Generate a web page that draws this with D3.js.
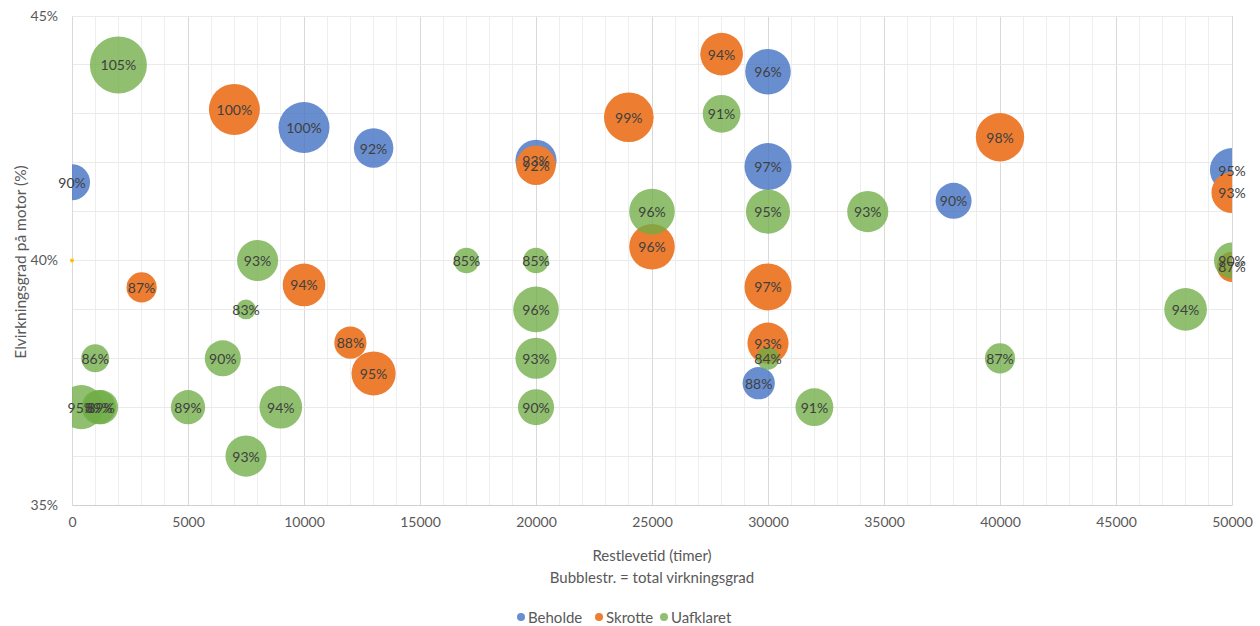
<!DOCTYPE html>
<html>
<head>
<meta charset="utf-8">
<script src="https://cdn.jsdelivr.net/npm/d3@7"></script>
<style>
  html, body { margin: 0; padding: 0; background: #fff; }
  svg { display: block; font-family: Lato, "Open Sans", sans-serif; }
</style>
</head>
<body>
<svg id="chart" width="1260" height="626"></svg>
<script>
// Restlevetid (timer), elvirkningsgrad (%) og total virkningsgrad (%) pr. motor
const beholdeX    = [0, 10000, 13000, 20000, 30000, 30000, 38000, 50000, 29600];
const beholdeY    = [41.6, 42.72, 42.3, 42.05, 43.86, 41.92, 41.22, 41.85, 37.49];
const beholdeSize = [90, 100, 92, 93, 96, 97, 90, 95, 88];

const skrotteX    = [7000, 3000, 10000, 12000, 13000, 20000, 24000, 28000, 25000, 30000, 30000, 40000, 50000, 50000];
const skrotteY    = [43.09, 39.45, 39.5, 38.32, 37.69, 41.95, 42.93, 44.22, 40.28, 39.46, 38.31, 42.52, 41.39, 39.87];
const skrotteSize = [100, 87, 94, 88, 95, 92, 99, 94, 96, 97, 93, 98, 93, 87];

const uafklaretX    = [2000, 8000, 7500, 1000, 6500, 400, 1150, 1250, 5000, 9000, 7500, 17000, 20000, 20000, 20000, 20000, 25000, 28000, 30000, 30000, 32000, 34300, 40000, 48000, 50000];
const uafklaretY    = [44.0, 40.0, 39.0, 38.0, 38.0, 37.0, 37.0, 37.0, 37.0, 37.0, 36.0, 40.0, 40.0, 39.0, 38.0, 37.0, 41.0, 43.0, 41.0, 38.0, 37.0, 41.0, 38.0, 39.0, 40.0];
const uafklaretSize = [105, 93, 83, 86, 90, 95, 89, 89, 89, 94, 93, 85, 85, 96, 93, 90, 96, 91, 95, 84, 91, 93, 87, 94, 90];

// Reference point on the y axis
const refX = [0];
const refY = [40];

const seriesNames = ["Beholde", "Skrotte", "Uafklaret"];
const xTicks = [0, 5000, 10000, 15000, 20000, 25000, 30000, 35000, 40000, 45000, 50000];
const yTicks = [35, 40, 45];

const xTitle = "Restlevetid (timer)";
const xSubtitle = "Bubblestr. = total virkningsgrad";
const yTitle = "Elvirkningsgrad på motor (%)";

const series = [
  { name: seriesNames[0], xs: beholdeX, ys: beholdeY, sizes: beholdeSize, color: "#4472C4", opacity: 0.8 },
  { name: seriesNames[1], xs: skrotteX, ys: skrotteY, sizes: skrotteSize, color: "#ED7D31", opacity: 1 },
  { name: seriesNames[2], xs: uafklaretX, ys: uafklaretY, sizes: uafklaretSize, color: "#70AD47", opacity: 0.78 }
];

const svg = d3.select("#chart");
const plot = { left: 72, right: 1232, top: 16, bottom: 505 };

const x = d3.scaleLinear().domain([0, 50000]).range([plot.left, plot.right]);
const y = d3.scaleLinear().domain([35, 45]).range([plot.bottom, plot.top]);
// bubble area grows with total efficiency above 80 %
const r = d3.scaleSqrt().domain([0, 25]).range([0, 28.5]);
const radius = v => r(Math.max(v - 80, 0));

// gridlines
const grid = svg.append("g");
grid.selectAll("line.vminor").data(d3.range(0, 50001, 1000)).join("line")
  .attr("x1", d => x(d)).attr("x2", d => x(d))
  .attr("y1", plot.top).attr("y2", plot.bottom)
  .attr("stroke", d => d % 5000 === 0 ? "#d9d9d9" : "#eeeeee").attr("stroke-width", 1)
  .attr("shape-rendering", "crispEdges");
grid.selectAll("line.h").data(d3.range(35, 45.01, 1)).join("line")
  .attr("x1", plot.left).attr("x2", plot.right)
  .attr("y1", d => y(d)).attr("y2", d => y(d))
  .attr("stroke", "#eaeaea").attr("stroke-width", 1)
  .attr("shape-rendering", "crispEdges");

// axes
const xAxis = d3.axisBottom(x).tickValues(xTicks).tickFormat(d3.format("d")).tickSize(0).tickPadding(12);
const gx = svg.append("g").attr("transform", `translate(0,${plot.bottom})`).call(xAxis);
gx.select(".domain").attr("stroke", "#d0d0d0");
gx.selectAll("text").attr("fill", "#595959").style("font-size", "14px").style("font-family", "Lato, sans-serif");

const yAxis = d3.axisLeft(y).tickValues(yTicks).tickFormat(d => d + "%").tickSize(0).tickPadding(14);
const gy = svg.append("g").attr("transform", `translate(${plot.left},0)`).call(yAxis);
gy.select(".domain").attr("stroke", "#d9d9d9");
gy.selectAll("text").attr("fill", "#595959").style("font-size", "14px").style("font-family", "Lato, sans-serif");

// clip region for the bubbles
svg.append("clipPath").attr("id", "plotClip").append("rect")
  .attr("x", plot.left).attr("y", plot.top)
  .attr("width", plot.right - plot.left).attr("height", plot.bottom - plot.top);

const bubbles = svg.append("g").attr("clip-path", "url(#plotClip)");
series.forEach(s => {
  const pts = s.xs.map((xv, i) => ({ x: xv, y: s.ys[i], v: s.sizes[i] }));
  bubbles.append("g").selectAll("circle").data(pts).join("circle")
    .attr("cx", d => x(d.x)).attr("cy", d => y(d.y)).attr("r", d => radius(d.v))
    .attr("fill", s.color).attr("fill-opacity", s.opacity);
});

svg.append("g").selectAll("circle").data(refX.map((xv, i) => ({ x: xv, y: refY[i] }))).join("circle")
  .attr("cx", d => x(d.x)).attr("cy", d => y(d.y)).attr("r", 2)
  .attr("fill", "#FFC000");

// data labels on top of every bubble
const labels = svg.append("g").style("font-size", "14px").attr("fill", "#404040");
series.forEach(s => {
  const pts = s.xs.map((xv, i) => ({ x: xv, y: s.ys[i], v: s.sizes[i] }));
  labels.append("g").selectAll("text").data(pts).join("text")
    .attr("x", d => x(d.x)).attr("y", d => y(d.y))
    .attr("text-anchor", "middle").attr("dominant-baseline", "central")
    .text(d => d.v + "%");
});

// axis titles
const cx = (plot.left + plot.right) / 2;
svg.append("text").attr("x", cx).attr("y", 555).attr("text-anchor", "middle")
  .attr("dominant-baseline", "central").attr("fill", "#595959").style("font-size", "15px").text(xTitle);
svg.append("text").attr("x", cx).attr("y", 577).attr("text-anchor", "middle")
  .attr("dominant-baseline", "central").attr("fill", "#595959").style("font-size", "15px").text(xSubtitle);
svg.append("text").attr("transform", `translate(20,262) rotate(-90)`)
  .attr("text-anchor", "middle").attr("dominant-baseline", "central")
  .attr("fill", "#595959").style("font-size", "15.5px").text(yTitle);

// legend
const legend = svg.append("g").attr("transform", "translate(0,617)");
const legendX = [521, 599, 664];
series.forEach((s, i) => {
  const g = legend.append("g").attr("transform", `translate(${legendX[i]},0)`);
  g.append("circle").attr("r", 4).attr("fill", s.color).attr("fill-opacity", s.opacity);
  g.append("text").attr("x", 7).attr("dominant-baseline", "central")
    .attr("fill", "#595959").style("font-size", "15px").text(s.name);
});
</script>
</body>
</html>
